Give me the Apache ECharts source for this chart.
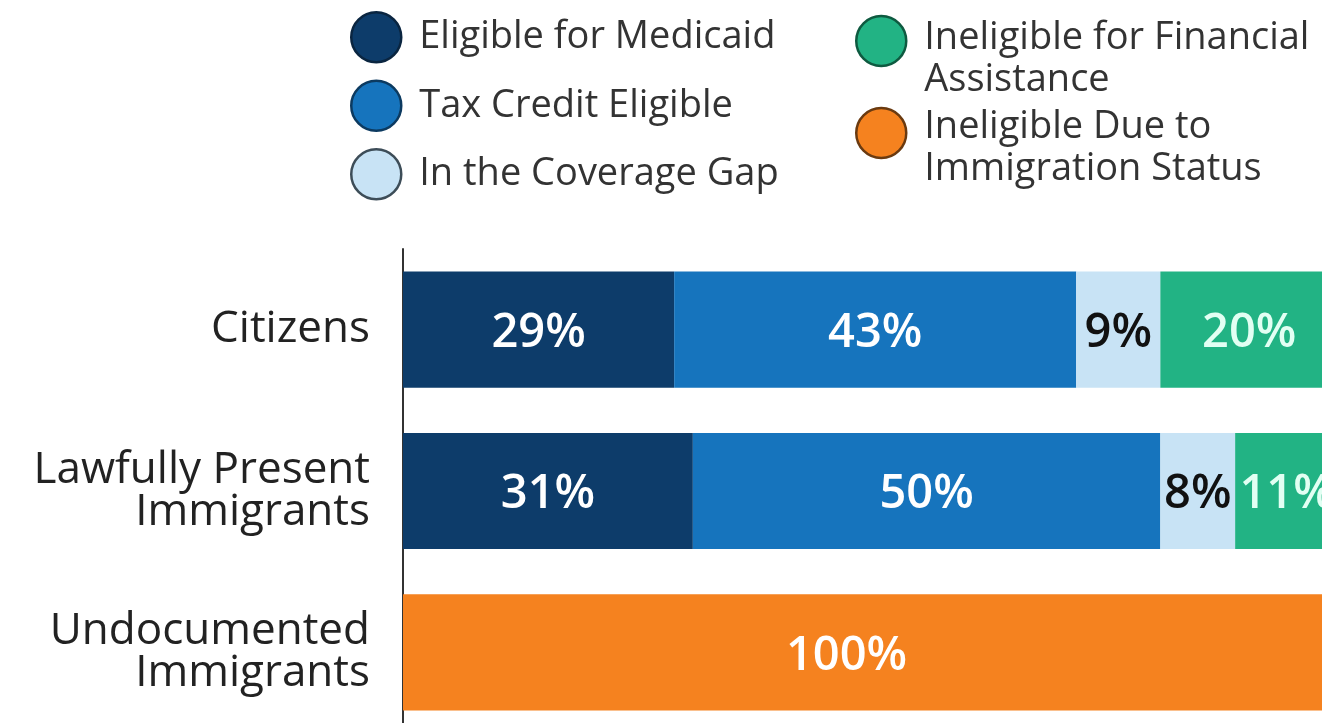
<!DOCTYPE html>
<html>
<head>
<meta charset="utf-8">
<script src="https://cdn.jsdelivr.net/npm/echarts@6/dist/echarts.min.js"></script>
<style>
html,body{margin:0;padding:0;background:#fff;overflow:hidden;}
#main{width:1322px;height:723px;}
</style>
</head>
<body>
<div id="main"></div>
<script>
const categories = ['Citizens', 'Lawfully Present\nImmigrants', 'Undocumented\nImmigrants'];
const seriesNames = ['Eligible for Medicaid', 'Tax Credit Eligible', 'In the Coverage Gap', 'Ineligible for Financial Assistance', 'Ineligible Due to Immigration Status'];
const legendLabels = ['Eligible for Medicaid', 'Tax Credit Eligible', 'In the Coverage Gap', '{e|}\n{t|Ineligible for Financial}\n{t|Assistance}', '{f|}\n{t|Ineligible Due to}\n{t|Immigration Status}'];
const medicaid = [29, 31, null];
const taxCredit = [43, 50, null];
const coverageGap = [9, 8, null];
const ineligibleFinancial = [20, 11, null];
const ineligibleImmigration = [null, null, 100];

const colors = ['#0d3c6a', '#1674bd', '#c8e3f5', '#22b384', '#f5821f'];
const borders = ['#0a2540', '#0c3a60', '#3d4d58', '#0e5a40', '#6a3a10'];
const labelColors = ['#ffffff', '#ffffff', '#111111', '#e2fff3', '#ffffff'];
const values = [medicaid, taxCredit, coverageGap, ineligibleFinancial, ineligibleImmigration];

const chart = echarts.init(document.getElementById('main'));
const font = "'Open Sans', sans-serif";

const series = seriesNames.map((n, i) => ({
  name: n,
  type: 'bar',
  stack: 'total',
  barWidth: '72%',
  data: values[i],
  itemStyle: { color: colors[i] },
  label: {
    show: true,
    position: 'inside',
    formatter: p => p.value == null ? '' : p.value + '%',
    color: labelColors[i],
    fontFamily: font,
    fontWeight: 600,
    fontSize: 47,
    offset: i === 4 ? [-24, 4] : [0, 4]
  }
}));

const legendText = {
  color: '#333',
  fontFamily: font,
  fontSize: 38,
  lineHeight: 42
};

function legendItem(i) {
  return { name: seriesNames[i], itemStyle: { borderColor: borders[i], borderWidth: 2.5 } };
}
function legendFmt(name) { return legendLabels[seriesNames.indexOf(name)]; }

const richText = {
  e: { height: 36, lineHeight: 36 },
  f: { height: 30, lineHeight: 30 },
  t: { color: '#333', fontFamily: font, fontSize: 38, lineHeight: 42 }
};

chart.setOption({
  animation: false,
  legend: [
    {
      orient: 'vertical',
      left: 350,
      top: 11,
      padding: 0,
      itemWidth: 50,
      itemHeight: 50,
      itemGap: 16,
      icon: 'circle',
      data: [0, 1, 2].map(legendItem),
      formatter: legendFmt,
      textStyle: Object.assign({ padding: [0, 0, 0, 13] }, legendText)
    },
    {
      orient: 'vertical',
      left: 855,
      top: -20,
      padding: 0,
      itemWidth: 50,
      itemHeight: 50,
      icon: 'circle',
      data: [legendItem(3)],
      formatter: legendFmt,
      textStyle: Object.assign({ padding: [0, 0, 0, 13], rich: richText }, legendText)
    },
    {
      orient: 'vertical',
      left: 855,
      top: 72,
      padding: 0,
      itemWidth: 50,
      itemHeight: 50,
      icon: 'circle',
      data: [legendItem(4)],
      formatter: legendFmt,
      textStyle: Object.assign({ padding: [0, 0, 0, 13], rich: richText }, legendText)
    }
  ],
  grid: { left: 403, right: -16, top: 249, bottom: -10, containLabel: false, outerBoundsMode: 'none' },
  xAxis: {
    type: 'value',
    min: 0,
    max: 100,
    show: false
  },
  yAxis: {
    type: 'category',
    data: categories,
    inverse: true,
    axisLine: { show: true, lineStyle: { color: '#333', width: 2 } },
    axisTick: { show: false },
    axisLabel: {
      color: '#222',
      fontFamily: font,
      fontSize: 44,
      lineHeight: 42,
      margin: 33,
      align: 'right'
    }
  },
  series: series
});
</script>
</body>
</html>
